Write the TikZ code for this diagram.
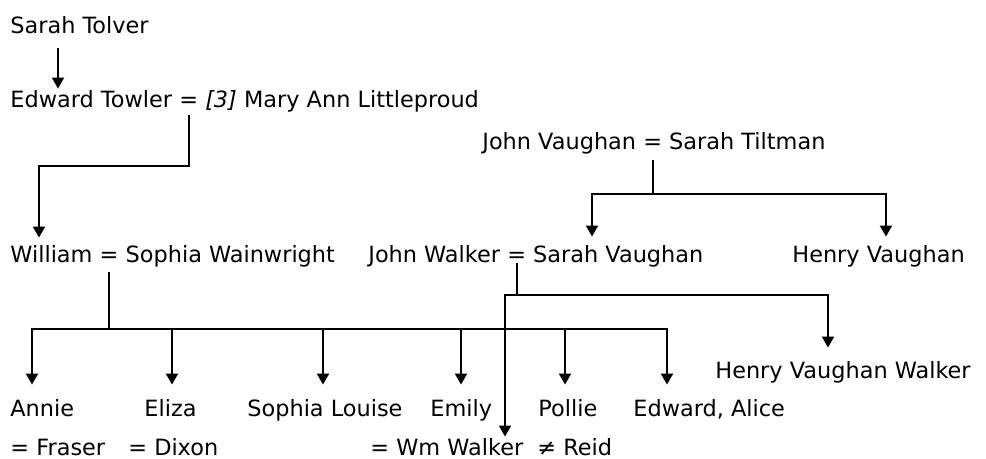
\documentclass[tikz,border=0pt]{standalone}
\usepackage{fontspec}
\setmainfont{DejaVu Sans}
\usetikzlibrary{arrows.meta,positioning}
\tikzset{person/.style={inner sep=0pt, anchor=base west, font=\fontsize{11.2}{13.4}\selectfont},
marry/.style={person, inner xsep=0.32em},
line/.style={line width=1pt},
%arrows end a little above the name
kin/.style={line, -{Triangle[width=6pt,length=5.5pt]}, shorten >=7.5pt}}

\begin{document}
\begin{tikzpicture}[x=0.5pt, y=-0.5pt]
\useasboundingbox (0,0) rectangle (986,459);

\node[person] (sarah) at (10,34) {Sarah Tolver};
\node[person] (edward) at (10,108) {Edward Towler};
\node[marry, base right=0pt of edward] (m1) {=};
\node[person, base right=0pt of m1] (mary) {\textit{[3]} Mary Ann Littleproud};

\node[person] (johnv) at (482,150) {John Vaughan};
\node[marry, base right=0pt of johnv] (m2) {=};
\node[person, base right=0pt of m2] (tiltman) {Sarah Tiltman};

\node[person] (william) at (10,263) {William};
\node[marry, base right=0pt of william] (m3) {=};
\node[person, base right=0pt of m3] (sophia) {Sophia Wainwright};
\node[person] (johnw) at (368,263) {John Walker};
\node[marry, base right=0pt of johnw] (m4) {=};
\node[person, base right=0pt of m4] (sarahv) {Sarah Vaughan};
\node[person] (henryv) at (792,263) {Henry Vaughan};

\node[person] (hvw) at (715,379) {Henry Vaughan Walker};

% children and their spouses
\foreach \n/\x/\t in {annie/10/Annie, eliza/144/Eliza, sophial/247/Sophia Louise, emily/430/Emily, pollie/538/Pollie, edal/633/{Edward, Alice}}
  \node[person] (\n) at (\x,417) {\t};
\foreach \n/\x/\t in {fraser/10/= Fraser, dixon/128/= Dixon, wmw/370/= Wm Walker, reid/537/≠ Reid}
  \node[person] (\n) at (\x,456) {\t};

\coordinate (s1) at ([xshift=24pt]sarah.south west);
\draw[kin, shorten <=6.5pt, shorten >=1pt] (s1) -- (s1 |- edward.north);

\coordinate (c1) at (39,166);
\draw[kin, shorten <=3.5pt, shorten >=4pt] (m1.south) |- (c1) -- (c1 |- william.north);

\coordinate (c2) at (592,194);
\coordinate (c3) at (886,194);
\draw[kin, shorten <=5pt, shorten >=4.5pt] (m2.south) |- (c2) -- (c2 |- sarahv.north);
\draw[kin, shorten <=5pt, shorten >=4.5pt] (m2.south) |- (c3) -- (c3 |- henryv.north);

\foreach \n/\x in {annie/32, eliza/172, sophial/323, emily/461, pollie/565, edal/667}{
  \coordinate (b-\n) at (\x,329);
  \draw[kin] (b-\n) -- (b-\n |- \n.north);
}
\draw[line, line cap=rect] (b-annie) -- (b-edal);
\draw[line, shorten <=4.5pt] (m3.south) -- (m3.south |- b-annie);

\coordinate (d1) at (505,295);
\coordinate (d2) at (828,295);
\draw[line] (m4.south) -- (m4.south |- d1);
\draw[kin, shorten >=1pt] (d2) -- (d1) -- (d1 |- wmw.north);
\draw[kin, shorten >=7pt] (d1) -- (d2) -- (d2 |- hvw.north);

\end{tikzpicture}
\end{document}
